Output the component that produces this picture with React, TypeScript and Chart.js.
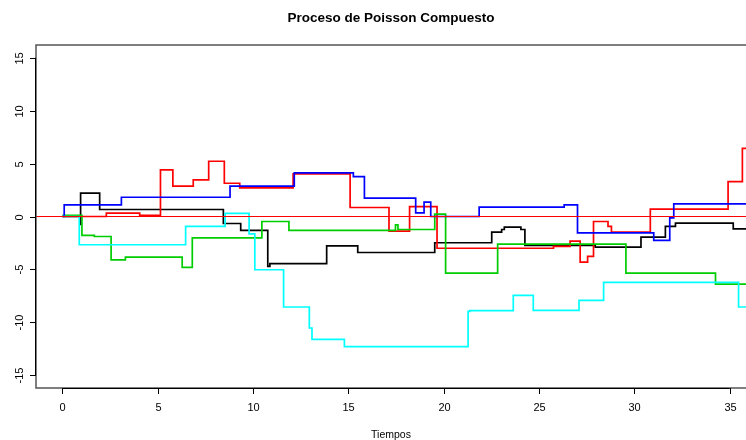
import React, { useEffect, useRef } from "react";
import { Chart, registerables } from "chart.js";

Chart.register(...registerables);

const titleText = "Proceso de Poisson Compuesto";
const xLabel = "Tiempos";
const xTicks = [0, 5, 10, 15, 20, 25, 30, 35];
const yTicks = [-15, -10, -5, 0, 5, 10, 15];

const blackT = [0, 0.93, 0.95, 1.95, 8.44, 9.35, 10.77, 10.88, 13.86, 15.49, 19.53, 22.52, 23.04, 23.18, 24.05, 24.26, 27.95, 30.35, 31.63, 32.16, 35.19, 37];
const blackY = [0, -0.75, 2.2, 0.66, -0.66, -1.32, -4.72, -4.46, -2.77, -3.4, -2.48, -1.48, -1.23, -1.01, -1.23, -2.74, -2.9, -1.95, -0.94, -0.63, -1.16, -1.16];

const redT = [0, 2.3, 4.05, 5.14, 5.79, 6.86, 7.67, 8.49, 9.3, 12.1, 15.09, 17.13, 18.21, 19.65, 25.76, 26.63, 27.16, 27.55, 27.86, 28.62, 28.8, 30.84, 34.92, 35.67, 37];
const redY = [0, 0.31, 0.12, 4.4, 2.86, 3.46, 5.22, 3.14, 2.71, 4.03, 0.85, -1.38, 0.94, -3.0, -2.83, -2.33, -4.31, -3.77, -0.47, -0.94, -1.48, 0.69, 3.3, 6.44, 6.44];

const greenT = [0, 1.02, 1.67, 2.55, 3.3, 6.28, 6.81, 10.46, 11.88, 17.47, 17.6, 19.53, 20.1, 22.83, 29.56, 34.26, 37];
const greenY = [0.12, -1.79, -1.89, -4.09, -3.84, -4.81, -2.01, -0.47, -1.32, -0.79, -1.23, 0.22, -5.35, -2.61, -5.35, -6.38, -6.38];

const blueT = [0, 0.09, 3.09, 8.79, 12.16, 15.26, 15.84, 18.53, 18.97, 19.32, 21.86, 26.32, 27.02, 31.02, 31.86, 32.07, 37];
const blueY = [0, 1.1, 1.82, 2.86, 4.12, 3.77, 1.73, 0.35, 1.35, 0.0, 0.88, 1.1, -1.54, -2.26, -0.13, 1.2, 1.2];

const cyanT = [0, 0.88, 6.46, 8.53, 9.79, 10.09, 11.6, 12.95, 13.09, 14.79, 21.28, 21.37, 23.65, 24.7, 27.1, 28.39, 35.47, 37];
const cyanY = [0, -2.67, -0.94, 0.3, -1.64, -5.03, -8.55, -10.53, -11.6, -12.3, -8.96, -8.9, -7.45, -8.87, -7.92, -6.23, -8.55, -8.55];

const hLineX = [-5, 40];
const hLineY = [0, 0];

const pts = (t: number[], y: number[]) => t.map((v, i) => ({ x: v, y: y[i] }));

const FONT = "'Liberation Sans', Arial, Helvetica, sans-serif";

const rAxesPlugin = {
  id: "rAxes",
  afterDraw(chart: any) {
    const ctx = chart.ctx as CanvasRenderingContext2D;
    const area = chart.chartArea;
    const xs = chart.scales.x;
    const ys = chart.scales.y;
    ctx.save();
    // box
    ctx.strokeStyle = "#555";
    ctx.lineWidth = 1.5;
    ctx.beginPath();
    ctx.moveTo(area.right + 2, area.top);
    ctx.lineTo(area.left, area.top);
    ctx.lineTo(area.left, area.bottom);
    ctx.lineTo(area.right + 2, area.bottom);
    ctx.stroke();

    // x axis
    ctx.strokeStyle = "#000";
    ctx.lineWidth = 1;
    const x0 = xs.getPixelForValue(xTicks[0]);
    const x1 = xs.getPixelForValue(xTicks[xTicks.length - 1]);
    ctx.beginPath();
    ctx.moveTo(x0, area.bottom + 0.5);
    ctx.lineTo(x1, area.bottom + 0.5);
    ctx.stroke();
    ctx.fillStyle = "#000";
    ctx.font = `11px ${FONT}`;
    ctx.textAlign = "center";
    ctx.textBaseline = "middle";
    xTicks.forEach((v) => {
      const px = Math.round(xs.getPixelForValue(v)) + 0.5;
      ctx.beginPath();
      ctx.moveTo(px, area.bottom);
      ctx.lineTo(px, area.bottom + 6);
      ctx.stroke();
      ctx.fillText(String(v), px, area.bottom + 20);
    });
    ctx.font = `10.5px ${FONT}`;
    ctx.fillText(xLabel, (area.left + area.right) / 2, area.bottom + 47);
    ctx.font = `11px ${FONT}`;

    // y axis
    const y0 = ys.getPixelForValue(yTicks[0]);
    const y1 = ys.getPixelForValue(yTicks[yTicks.length - 1]);
    ctx.beginPath();
    ctx.moveTo(area.left - 0.5, y0);
    ctx.lineTo(area.left - 0.5, y1);
    ctx.stroke();
    yTicks.forEach((v) => {
      const py = Math.round(ys.getPixelForValue(v)) + 0.5;
      ctx.beginPath();
      ctx.moveTo(area.left, py);
      ctx.lineTo(area.left - 6, py);
      ctx.stroke();
      ctx.save();
      ctx.translate(area.left - 16, py);
      ctx.rotate(-Math.PI / 2);
      ctx.fillText(String(v), 0, 0);
      ctx.restore();
    });

    // title
    ctx.font = `bold 13.5px ${FONT}`;
    ctx.fillText(titleText, (area.left + area.right) / 2, 18);
    ctx.restore();
  },
};

export default function App() {
  const ref = useRef<HTMLCanvasElement | null>(null);
  useEffect(() => {
    document.body.style.margin = "0";
    const canvas = ref.current!;
    const mk = (t: number[], y: number[], color: string, w: number) => ({
      data: pts(t, y),
      borderColor: color,
      borderWidth: w,
      stepped: "before" as const,
      pointRadius: 0,
      fill: false,
    });
    const chart = new Chart(canvas, {
      type: "line",
      data: {
        datasets: [
          { ...mk(hLineX, hLineY, "#FF0000", 1), stepped: false as any },
          mk(cyanT, cyanY, "#00FFFF", 1.7),
          mk(blueT, blueY, "#0000FF", 1.7),
          mk(greenT, greenY, "#00CD00", 1.7),
          mk(redT, redY, "#FF0000", 1.7),
          mk(blackT, blackY, "#000000", 1.7),
        ],
      },
      options: {
        animation: false,
        responsive: false,
        devicePixelRatio: 1,
        layout: { padding: { left: 36, right: 0, top: 45, bottom: 52 } },
        plugins: { legend: { display: false }, tooltip: { enabled: false }, title: { display: false } },
        scales: {
          x: { type: "linear", min: -1.39, max: 35.86, display: false },
          y: { type: "linear", min: -16.2, max: 16.2, display: false },
        },
        elements: { line: { tension: 0 } },
      },
      plugins: [rAxesPlugin],
    });
    return () => chart.destroy();
  }, []);
  return (
    <div style={{ position: "absolute", left: 0, top: 0, width: 746, height: 440, background: "#fff" }}>
      <canvas ref={ref} width={746} height={440} style={{ display: "block" }} />
    </div>
  );
}
